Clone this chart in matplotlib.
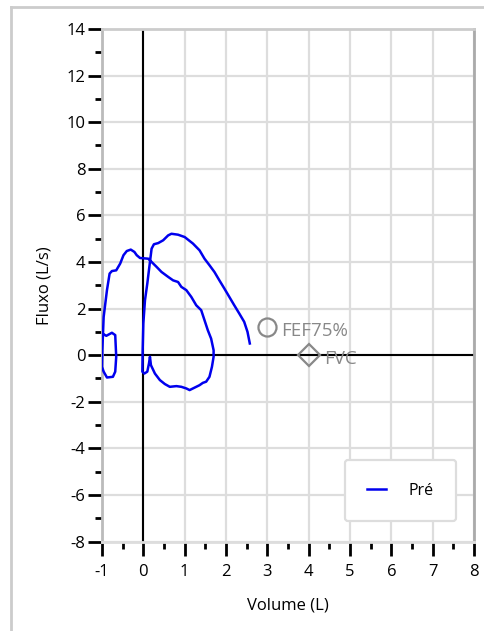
import matplotlib.pyplot as plt
from matplotlib.lines import Line2D

plt.rcParams['font.family'] = ['Open Sans', 'DejaVu Sans']
plt.rcParams['axes.unicode_minus'] = False

# Flow-volume loop (Pré)
volume = [-1.0, -0.896, -0.76, -0.68, -0.656, -0.68, -0.736, -0.88, -0.96, -1.0,
          -0.992, -0.96, -0.88, -0.816, -0.76, -0.656, -0.56, -0.48, -0.40, -0.304,
          -0.216, -0.16, -0.08, 0.12, 0.20, 0.32, 0.44, 0.60, 0.72, 0.84,
          0.92, 1.04, 1.16, 1.28, 1.40, 1.48, 1.56, 1.64, 1.70, 1.70,
          1.66, 1.60, 1.52, 1.44, 1.36, 1.28, 1.20, 1.12, 1.04, 0.92,
          0.80, 0.64, 0.52, 0.40, 0.28, 0.184, 0.16, 0.136, 0.096, 0.024,
          -0.024, -0.016, 0.0, 0.04, 0.096, 0.16, 0.20, 0.256, 0.36, 0.48,
          0.60, 0.68, 0.84, 1.0, 1.2, 1.36, 1.48, 1.6, 1.72, 1.84,
          1.96, 2.08, 2.2, 2.32, 2.44, 2.52, 2.576]
flow = [0.93, 0.83, 0.96, 0.86, -0.07, -0.71, -0.93, -0.96, -0.71, -0.5,
        0.21, 1.64, 2.79, 3.5, 3.61, 3.64, 3.93, 4.29, 4.47, 4.53,
        4.43, 4.29, 4.17, 4.14, 4.0, 3.79, 3.57, 3.36, 3.21, 3.14,
        2.93, 2.79, 2.5, 2.14, 1.93, 1.5, 1.07, 0.71, 0.21, -0.07,
        -0.5, -0.93, -1.14, -1.19, -1.29, -1.36, -1.43, -1.5, -1.43, -1.36,
        -1.33, -1.36, -1.24, -1.07, -0.79, -0.43, -0.07, -0.36, -0.71, -0.79,
        -0.71, 0.21, 1.36, 2.36, 3.07, 4.0, 4.57, 4.76, 4.81, 4.93,
        5.14, 5.21, 5.17, 5.07, 4.79, 4.5, 4.14, 3.86, 3.57, 3.21,
        2.86, 2.5, 2.14, 1.79, 1.43, 1.0, 0.5]

# reference points
fef75 = (3.0, 1.2)
fvc = (4.0, 0.0)

xticks = list(range(-1, 9))
yticks = list(range(-8, 15, 2))

fig = plt.figure(figsize=(4.85, 6.31), dpi=100)

# outer frame (left and top only visible)
fig.add_artist(Line2D([11/485, 11/485], [0, 1 - 7/631], color='#cccccc', lw=2))
fig.add_artist(Line2D([11/485, 1], [1 - 7/631, 1 - 7/631], color='#cccccc', lw=2))

ax = fig.add_axes([102/485, (631-541.5)/631, 372/485, 512.5/631])
ax.set_xlim(-1, 8)
ax.set_ylim(-8, 14)

ax.set_xticks(xticks)
ax.set_yticks(yticks)
ax.set_xticks([x + 0.5 for x in xticks[:-1]], minor=True)
ax.set_yticks([y + 1 for y in yticks[:-1]], minor=True)
ax.grid(True, which='major', color='#dddddd', lw=1.6)
ax.set_axisbelow(True)

ax.tick_params(which='major', length=10, width=2, color='black', labelsize=12)
ax.tick_params(axis='x', which='major', pad=6)
ax.tick_params(axis='y', which='major', pad=2)
ax.tick_params(which='minor', length=5, width=2, color='black')
ax.spines['left'].set_color('#bbbbbb')
ax.spines['left'].set_linewidth(2)
ax.spines['bottom'].set_color('#dddddd')
ax.spines['bottom'].set_linewidth(2)
ax.spines['top'].set_color('#cccccc')
ax.spines['top'].set_linewidth(2)
ax.spines['right'].set_color('#aaaaaa')
ax.spines['right'].set_linewidth(2)

ax.axhline(0, color='black', lw=1.5, zorder=1.5)
ax.axvline(0, color='black', lw=1.5, zorder=1.5)

ax.plot(volume, flow, color='#0000ee', lw=1.8, label='Pré', zorder=3)

ax.plot(*fef75, marker='o', ms=13, mfc='none', mec='#888888', mew=1.6, ls='none', zorder=4)
ax.text(fef75[0] + 0.33, fef75[1] - 0.15, 'FEF75%', color='#888888', fontsize=13.5, va='center', zorder=5)
ax.plot(*fvc, marker='D', ms=11, mfc='none', mec='#888888', mew=1.6, ls='none', zorder=4)
ax.text(fvc[0] + 0.38, fvc[1] - 0.15, 'FVC', color='#888888', fontsize=13.5, va='center', zorder=5)

leg = ax.legend(loc='lower right', bbox_to_anchor=(0.952, 0.04), fontsize=11.5,
                frameon=True, fancybox=True, handlelength=1.2, borderpad=1.4,
                borderaxespad=0, handletextpad=1.4, framealpha=1)
leg.get_frame().set_edgecolor('#dddddd')
leg.get_frame().set_linewidth(1.6)
leg.set_zorder(6)

ax.set_xlabel('Volume (L)', fontsize=12, labelpad=13)
ax.set_ylabel('Fluxo (L/s)', fontsize=12, labelpad=10)

fig.savefig('out.png', dpi=100)
